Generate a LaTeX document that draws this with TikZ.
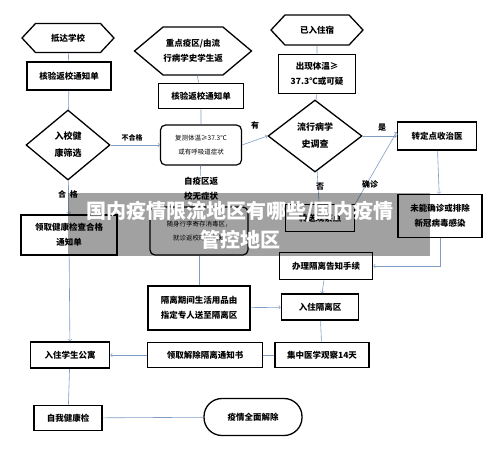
\documentclass[tikz,border=0pt]{standalone}
\usepackage{fontspec}
\setmainfont{Noto Sans CJK SC}
\usetikzlibrary{shapes.geometric,shapes.symbols}
\definecolor{linkc}{HTML}{7F9DC4}
\tikzset{
  box/.style={draw,line width=1.6pt,inner sep=0pt,align=center,font=\fontsize{8.5}{15}\selectfont\bfseries},
  rbox/.style={box,line width=1.2pt,rounded corners=5pt,font=\fontsize{6.5}{14}\selectfont},
  hex/.style={draw,shape=signal,signal to=west and east,line width=1.3pt,inner sep=0pt,align=center,font=\fontsize{8.5}{15}\selectfont\bfseries},
  dia/.style={draw,diamond,line width=1.3pt,inner sep=0pt,align=center,font=\fontsize{9}{17}\selectfont\bfseries},
  lab/.style={font=\fontsize{8}{14}\selectfont\bfseries,align=center},
  link/.style={draw=linkc,line width=0.6pt}
}
\begin{document}
\begin{tikzpicture}[x=1pt,y=-1pt]
   \useasboundingbox (0,0) rectangle (500,451);
   % left column
   \node[hex,minimum width=92pt,minimum height=29pt,signal pointer angle=94] (arrive) at (68,38) {抵达学校};
   \node[box,minimum width=84pt,minimum height=28pt] (check1) at (69,76) {核验返校通知单};
   \node[dia,minimum width=84pt,minimum height=70pt] (screen) at (68,145) {入校健\\康筛选};
   \node[box,minimum width=96pt,minimum height=40pt] (pass) at (69,235) {领取健康检查合格\\通知单};
   \node[box,minimum width=79pt,minimum height=26pt] (dorm) at (70,355) {入住学生公寓};
   \node[box,minimum width=68pt,minimum height=25pt] (self) at (68,418) {自我健康检};
   \node[box,line width=1.3pt,rounded corners=18pt,minimum width=98pt,minimum height=37pt] (lift) at (253,417) {疫情全面解除};
   % middle column
   \node[hex,minimum width=117pt,minimum height=48pt,signal pointer angle=80] (epi) at (193,51) {重点疫区/由流\\行病学史学生返};
   \node[box,minimum width=85pt,minimum height=25pt] (check2) at (201,96) {核验返校通知单};
   \node[rbox,minimum width=81pt,minimum height=40pt] (retest) at (201,145) {复测体温≥37.3℃\\或有呼吸道症状};
   \node[rbox,minimum width=98pt,minimum height=48pt] (store) at (199,231) {随身行李寄存消毒区，\\就诊返校时间告知};
   \node[box,minimum width=102pt,minimum height=44pt] (supply) at (199,308) {隔离期间生活用品由\\指定专人送至隔离区};
   \node[box,minimum width=115pt,minimum height=25pt] (release) at (205,355) {领取解除隔离通知书};
   % right column
   \node[hex,minimum width=92pt,minimum height=30pt,signal pointer angle=94] (lodged) at (317,30) {已入住宿};
   \node[box,minimum width=77pt,minimum height=39pt] (fever) at (317,74) {出现体温≥\\37.3℃或可疑};
   \node[dia,minimum width=94pt,minimum height=72pt] (survey) at (315,136) {流行病学\\史调查};
   \node[box,minimum width=79pt,minimum height=28pt] (hosp) at (437,136) {转定点收治医};
   \node[box,minimum width=69pt,minimum height=27pt] (observe) at (320,218) {转送观察点};
   \node[box,minimum width=84pt,minimum height=43pt] (undec) at (440,216) {未能确诊或排除\\新冠病毒感染};
   \node[box,minimum width=93pt,minimum height=27pt] (notice) at (326,266) {办理隔离告知手续};
   \node[box,minimum width=77pt,minimum height=26pt] (ward) at (320,307) {入住隔离区};
   \node[box,minimum width=94pt,minimum height=25pt] (central) at (322,355) {集中医学观察14天};
   % connectors
   \draw[link] (arrive)--(check1)--(screen);
   \draw[link,->] (screen)--(pass);
   \draw[link,->] (screen)--(retest);
   \draw[link,->] (pass)--(dorm);
   \draw[link] (dorm)--(self);
   \draw[link] (self)--(lift);
   \draw[link] (epi)--(check2)--(retest);
   \draw[link] (retest)--(store);
   \draw[link] (store)--(supply);
   \draw[link,->] (supply)--(ward);
   \draw[link,->] (retest.east)--(survey.west);
   \draw[link] (lodged)--(fever)--(survey);
   \draw[link,->] (survey)--(hosp);
   \draw[link,->] (survey)--(observe);
   \draw[link,->] (observe.north east)--([yshift=4pt]hosp.west);
   \draw[link,->] (hosp)--(undec);
   \draw[link,->] (undec.south) |- (notice.east);
   \draw[link,->] (notice)--(ward);
   \draw[link] (ward)--(central);
   \draw[link] (central)--(release);
   \draw[link,->] (release)--(dorm);
   % labels
   \node[lab,font=\fontsize{7}{12}\selectfont\bfseries] (nopass) at (132,138) {不合格};
   \node[lab] (ok) at (68,194) {合\ \ 格};
   \node[lab] (yes1) at (255,125) {有};
   \node[lab] (yes2) at (382,128) {是};
   \node[lab] (no) at (320,187) {否};
   \node[lab] (conf) at (370,184) {确诊};
   \node[lab,fill=white,inner sep=1pt,font=\fontsize{8.5}{15}\selectfont\bfseries] (back) at (201,189) {自疫区返\\校无症状};
   % banner
   \fill[black,fill opacity=0.37] (68,193) rectangle (430,256);
   \node[white,align=center,font=\fontsize{20}{29}\selectfont\bfseries] (title) at (240,225) {国内疫情限流地区有哪些/国内疫情\\管控地区};
\end{tikzpicture}
\end{document}
